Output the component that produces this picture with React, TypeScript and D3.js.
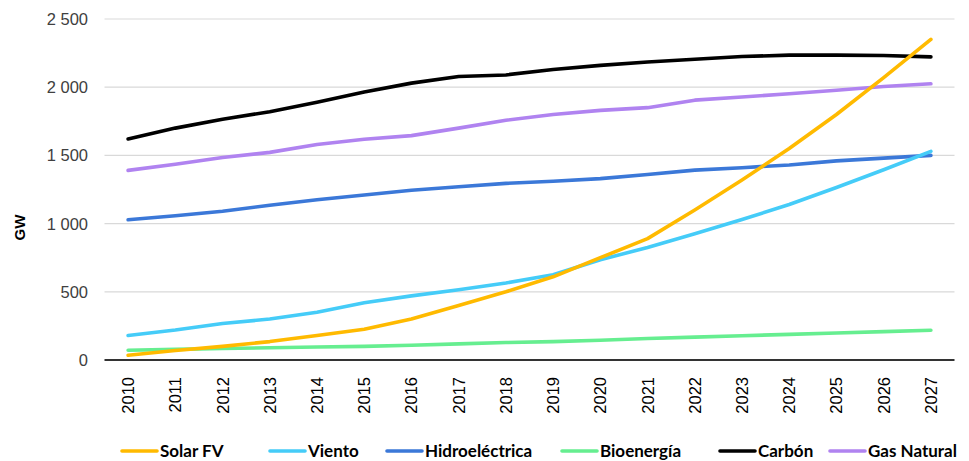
import React from "react";
import * as d3 from "d3";

const years = ["2010","2011","2012","2013","2014","2015","2016","2017","2018","2019","2020","2021","2022","2023","2024","2025","2026","2027"];
const solar = [35, 70, 100, 135, 180, 225, 300, 400, 500, 610, 750, 890, 1100, 1320, 1550, 1800, 2070, 2350];
const viento = [180, 220, 268, 300, 350, 420, 470, 515, 565, 625, 735, 825, 925, 1030, 1140, 1265, 1395, 1530];
const hidro = [1028, 1058, 1090, 1135, 1175, 1210, 1245, 1270, 1295, 1310, 1330, 1360, 1392, 1410, 1430, 1460, 1480, 1500];
const bio = [72, 78, 84, 90, 95, 100, 108, 118, 128, 135, 145, 158, 168, 178, 188, 198, 208, 218];
const carbon = [1620, 1700, 1765, 1820, 1890, 1965, 2030, 2078, 2090, 2130, 2160, 2185, 2205, 2225, 2235, 2235, 2232, 2222];
const gas = [1390, 1435, 1485, 1522, 1580, 1618, 1645, 1700, 1758, 1800, 1830, 1850, 1905, 1928, 1952, 1978, 2005, 2025];
const yTicks = [0, 500, 1000, 1500, 2000, 2500];

const seriesNames = ["Solar FV", "Viento", "Hidroeléctrica", "Bioenergía", "Carbón", "Gas Natural"];
const seriesValues = [solar, viento, hidro, bio, carbon, gas];
const seriesColors = ["#FFBA00", "#45CCF8", "#3B78D8", "#66EE90", "#000000", "#B083F0"];
const legendX = [122, 270, 387, 562, 720, 830];
const drawOrder = [3, 2, 5, 4, 1, 0];

export default function App() {
  const W = 969, H = 461;
  const x = d3.scaleBand().domain(years).range([104.5, 954.5]);
  const y = d3.scaleLinear().domain([0, 2500]).range([360, 19]);
  const cx = (yr: string) => (x(yr) as number) + x.bandwidth() / 2;
  const line = d3.line<number>().x((_, i) => cx(years[i])).y(d => y(d));
  const fmt = (v: number) => d3.format(",")(v).replace(/,/g, " ");

  return (
    <svg width={W} height={H} style={{ position: "absolute", left: 0, top: 0, background: "#fff" }}>
      {yTicks.filter(t => t > 0).map(t => (
        <line key={t} x1={104.5} x2={954.5} y1={y(t)} y2={y(t)} stroke="#d9d9d9" strokeWidth={1.2} />
      ))}
      {yTicks.map(t => (
        <text key={"l" + t} x={88} y={y(t) + 6} textAnchor="end" fontFamily="Liberation Sans, Arial, sans-serif" fontSize={16.5} fill="#404040">{fmt(t)}</text>
      ))}
      <text transform={`translate(25,${y(1000) + 4}) rotate(-90)`} textAnchor="middle" fontFamily="Liberation Sans, Arial, sans-serif" fontSize={15} fontWeight="bold" fill="#000">GW</text>
      {drawOrder.map(i => (
        <path key={seriesNames[i]} d={line(seriesValues[i]) || ""} fill="none" stroke={seriesColors[i]} strokeWidth={3.6} strokeLinejoin="round" strokeLinecap="round" />
      ))}
      <line x1={104.5} x2={954.5} y1={y(0)} y2={y(0)} stroke="#333" strokeWidth={2} />
      {years.map(yr => (
        <text key={yr} transform={`translate(${cx(yr) + 6},${377}) rotate(-90)`} textAnchor="end" fontFamily="Liberation Sans, Arial, sans-serif" fontSize={16.5} fill="#000">{yr}</text>
      ))}
      {seriesNames.map((n, i) => (
        <g key={"lg" + n}>
          <line x1={legendX[i]} x2={legendX[i] + 35} y1={451} y2={451} stroke={seriesColors[i]} strokeWidth={3.6} strokeLinecap="round" />
          <text x={legendX[i] + 38} y={457} fontFamily="Lato, sans-serif" fontWeight="bold" fontSize={17} fill="#000">{n}</text>
        </g>
      ))}
    </svg>
  );
}
